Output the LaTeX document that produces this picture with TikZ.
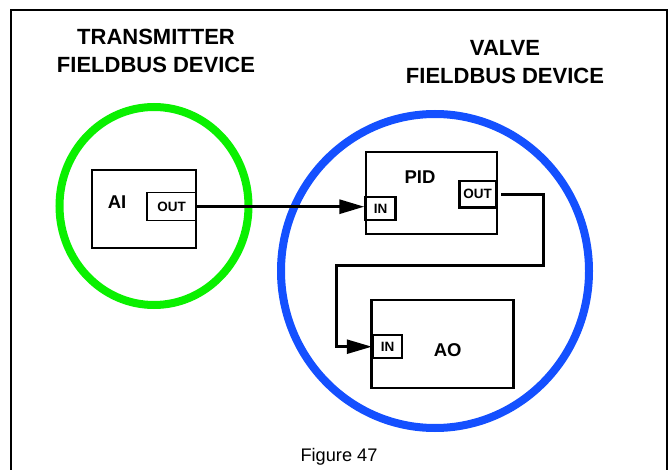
\documentclass[tikz,border=0pt]{standalone}
\usepackage{fontspec}
\setmainfont{Liberation Sans}
\usetikzlibrary{arrows.meta}
\definecolor{ringgreen}{RGB}{10,240,0}
\definecolor{ringblue}{RGB}{20,80,255}
\begin{document}
\begin{tikzpicture}[x=1pt,y=-1pt,
  title/.style={font=\bfseries\fontsize{22}{28}\selectfont, align=center, inner sep=0pt},
  blk/.style={draw, line width=2.6pt, inner sep=0pt},
  port/.style={draw, line width=2.4pt, inner sep=0pt, font=\bfseries\fontsize{13.5}{14}\selectfont},
  thinport/.style={draw, line width=1.4pt, inner sep=0pt, font=\bfseries\fontsize{13.5}{14}\selectfont},
  lbl/.style={font=\bfseries\fontsize{18.5}{20}\selectfont, inner sep=0pt},
  ring/.style={line width=8pt},
  conn/.style={line width=3pt},
  loopconn/.style={line width=2.5pt},
  tip/.style={-{Triangle[length=25pt,width=14pt]}}]
\useasboundingbox (0,0) rectangle (669,470);
% frame
\draw[line width=2.5pt] (11,490) -- (11,10) -- (667,10) -- (667,490);
% titles
\node[title] (ttx) at (156,51) {TRANSMITTER\\FIELDBUS DEVICE};
\node[title] (tvl) at (505,62) {VALVE\\FIELDBUS DEVICE};
% device rings
\draw[ring, ringgreen] (154,206) ellipse [x radius=94.5, y radius=99];
\draw[ring, ringblue] (435,271) ellipse [x radius=154, y radius=157];
% blocks
\node[blk, minimum width=104pt, minimum height=78pt] (ai) at (144,209) {};
\node[thinport, minimum width=49pt, minimum height=28pt] (aiout) at (171.5,206.7) {OUT};
\node[lbl] (ailbl) at (117,202) {AI};
\node[blk, minimum width=131pt, minimum height=82pt] (pid) at (431.5,193) {};
\node[lbl] (pidlbl) at (420,177) {PID};
\node[port, minimum width=30pt, minimum height=23pt] (pidin) at (380.5,208.4) {IN};
\node[port, minimum width=36.5pt, minimum height=26.5pt] (pidout) at (477.7,194.3) {OUT};
\node[blk, minimum width=142pt, minimum height=88pt] (ao) at (442.7,344) {};
\node[lbl] (aolbl) at (447.7,350) {AO};
\node[port, minimum width=29pt, minimum height=23pt] (aoin) at (387.5,346.7) {IN};
% connectors
\draw[conn, tip] (aiout.east) -- (aiout.east -| pidin.west);
\coordinate (c1) at (543.3,265.7);
\coordinate (c2) at (336.7,265.7);
\draw[loopconn, tip] ([xshift=4pt]pidout.east) -| (c1) -- (c2) |- (aoin.west);
% caption
\node[font=\fontsize{18.2}{20}\selectfont, inner sep=0pt] (cap) at (339,457) {Figure 47};
\end{tikzpicture}
\end{document}
